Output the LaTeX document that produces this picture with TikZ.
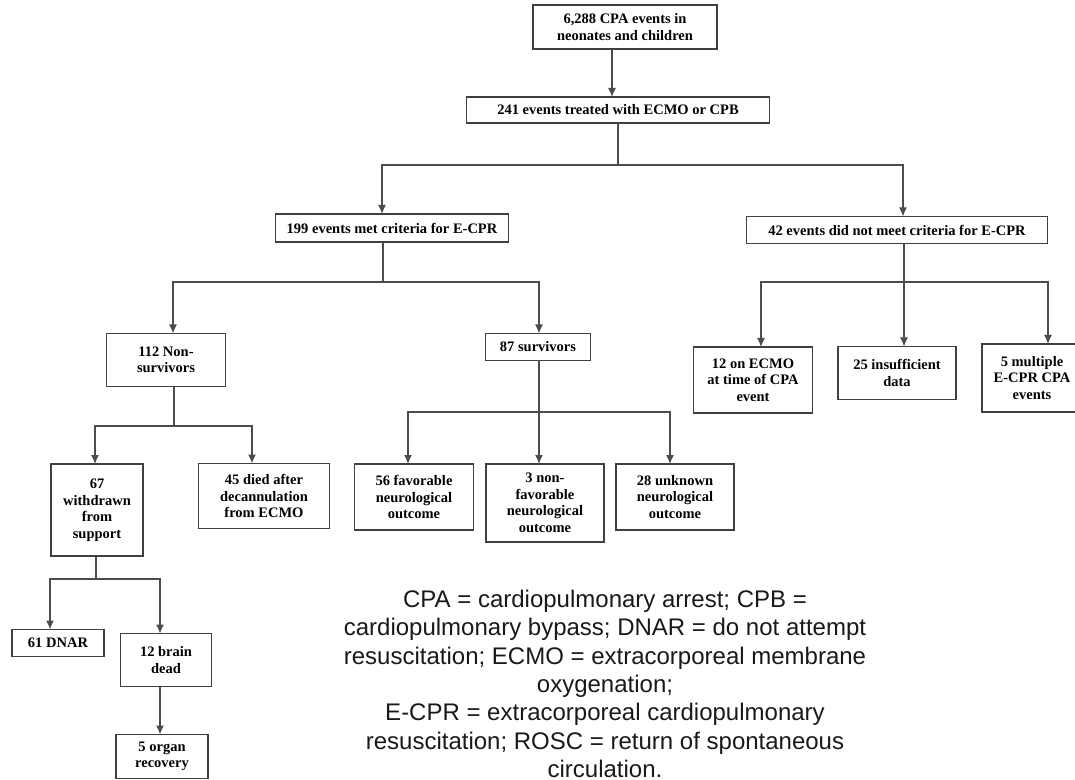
\documentclass[tikz,border=0pt]{standalone}
\usepackage{fontspec}
\setmainfont{Liberation Serif}
\newfontfamily\keyfont{Liberation Sans}
\usepackage{tikz}
\usetikzlibrary{arrows.meta,calc,positioning}
\newdimen\pxdim
\pxdim=0.5pt
\tikzstyle{box}=[
  draw=black!75,
  fill=white,
  font={\fontsize{7.25}{8.25}\selectfont\bfseries},
  align=center,
  inner sep=0pt,
  outer sep=0pt,
  line width=1.4\pxdim,
  rectangle,
]
\tikzstyle{arrow}=[
  draw=black!70,
  line width=1.3\pxdim,
]
\tikzstyle{key}=[
  font={\keyfont\fontsize{12}{14.15}\selectfont},
  align=center,
  color=black!90,
]
\tikzset{
  >={Latex[length=4.5pt,width=4pt]},
}

\begin{document}
\begin{tikzpicture}[x=0.5pt, y=-0.5pt]
  \useasboundingbox (0,0) rectangle (1075,780);
  %% top of the tree
  \node (top) [box, minimum width=184\pxdim, minimum height=44\pxdim] at (625,27) {6,288 CPA events in\\neonates and children};
  \node (treated) [box, minimum width=303\pxdim, minimum height=26\pxdim] at (618,110) {241 events treated with ECMO or CPB};
  \node (met) [box, minimum width=233\pxdim, minimum height=28\pxdim] at (392,228) {199 events met criteria for E-CPR};
  \node (notmet) [box, minimum width=301\pxdim, minimum height=27\pxdim] at (897,230) {42 events did not meet criteria for E-CPR};
  %%
  \node (nonsurv) [box, minimum width=119\pxdim, minimum height=53\pxdim] at (166,360) {112 Non-\\survivors};
  \node (surv) [box, minimum width=105\pxdim, minimum height=27\pxdim] at (538,347) {87 survivors};
  \node (withdrawn) [box, minimum width=92\pxdim, minimum height=92\pxdim] at (97,510) {67\\withdrawn\\from\\support};
  \node (died) [box, minimum width=131\pxdim, minimum height=65\pxdim] at (264,496) {45 died after\\decannulation\\from ECMO};
  \node (favorable) [box, minimum width=119\pxdim, minimum height=66\pxdim] at (414,497) {56 favorable\\neurological\\outcome};
  \node (nonfav) [box, minimum width=118\pxdim, minimum height=78\pxdim] at (545,503) {3 non-\\favorable\\neurological\\outcome};
  \node (unknown) [box, minimum width=118\pxdim, minimum height=66\pxdim] at (675,497) {28 unknown\\neurological\\outcome};
  %%
  \node (onecmo) [box, minimum width=119\pxdim, minimum height=66\pxdim] at (753,380) {12 on ECMO\\at time of CPA\\event};
  \node (insuff) [box, minimum width=118\pxdim, minimum height=53\pxdim] at (897,373) {25 insufficient\\data};
  \node (multiple) [box, minimum width=100\pxdim, minimum height=68\pxdim] at (1032,378) {5 multiple\\E-CPR CPA\\events};
  %%
  \node (dnar) [box, minimum width=92\pxdim, minimum height=27\pxdim] at (58,643) {61 DNAR};
  \node (brain) [box, minimum width=91\pxdim, minimum height=53\pxdim] at (166,660) {12 brain\\dead};
  \node (organ) [box, minimum width=92\pxdim, minimum height=44\pxdim, below=48\pxdim of brain.south, anchor=north, xshift=-4\pxdim] {5 organ\\recovery};
  %%
  \node (key) [key] at (605,684) {CPA = cardiopulmonary arrest; CPB =\\cardiopulmonary bypass; DNAR = do not attempt\\resuscitation; ECMO = extracorporeal membrane\\oxygenation;\\E-CPR = extracorporeal cardiopulmonary\\resuscitation; ROSC = return of spontaneous\\circulation.};
  %% connectors
  \draw [->, arrow] ($(top.south)+(-13,0)$) -- ($(treated.north)+(-6,0)$);
  \coordinate (A) at (618,165);
  \draw [arrow] (treated) -- (A);
  \draw [->, arrow] (A) -| ($(met.north)+(-10,0)$);
  \draw [->, arrow] (A) -| ($(notmet.north)+(6,0)$);
  %%
  \coordinate (B) at (383,282);
  \draw [arrow] (met.south -| B) -- (B);
  \draw [->, arrow] (B) -| ($(nonsurv.north)+(7,0)$);
  \draw [->, arrow] (B) -| ($(surv.north)+(1,0)$);
  %%
  \coordinate (C) at (174,426);
  \draw [arrow] (nonsurv.south -| C) -- (C);
  \draw [->, arrow] (C) -| ($(withdrawn.north)+(-2,0)$);
  \draw [->, arrow] (C) -| ($(died.north)+(-12,0)$);
  %%
  \coordinate (D) at (539,412);
  \draw [arrow] (surv.south -| D) -- (D);
  \draw [->, arrow] (D) -| ($(favorable.north)+(-6,0)$);
  \draw [->, arrow] (D) -- (D |- nonfav.north);
  \draw [->, arrow] (D) -| ($(unknown.north)+(-5,0)$);
  %%
  \coordinate (E) at (904,282);
  \draw [arrow] (notmet.south -| E) -- (E);
  \draw [->, arrow] (E) -| ($(onecmo.north)+(8,0)$);
  \draw [->, arrow] (E) -- (E |- insuff.north);
  \draw [->, arrow] (E) -| ($(multiple.north)+(16,0)$);
  %%
  \coordinate (F) at (96,579);
  \draw [arrow] (withdrawn.south -| F) -- (F);
  \draw [->, arrow] (F) -| ($(dnar.north)+(-8,0)$);
  \draw [->, arrow] (F) -| ($(brain.north)+(-6,0)$);
  \draw [->, arrow] ($(brain.south)+(-6,0)$) -- ($(organ.north)+(-2,0)$);
\end{tikzpicture}
\end{document}
